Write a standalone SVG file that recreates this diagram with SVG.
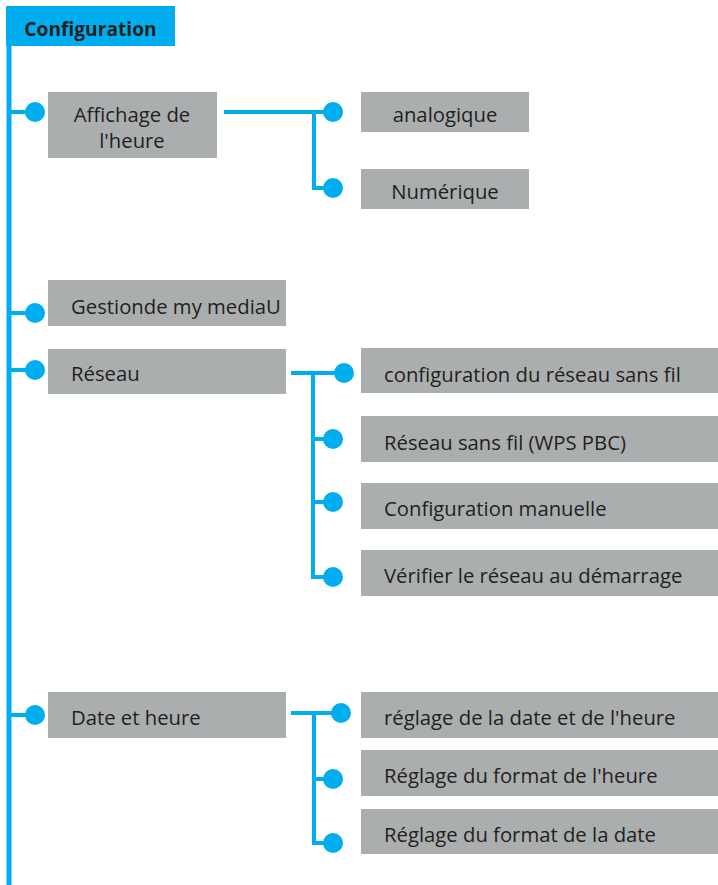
<svg xmlns="http://www.w3.org/2000/svg" width="718" height="885" viewBox="0 0 718 885">
<style>
.box{fill:#ABAEAE}
.t{font-family:"Open Sans","Noto Sans",sans-serif;font-size:20.3px;fill:#231F20}
.h{font-family:"Open Sans","Noto Sans",sans-serif;font-size:19.2px;font-weight:bold;fill:#231F20}
.ln{stroke:#00AEEF;stroke-width:4;fill:none}
.dot{fill:#00AEEF}
</style>
<rect width="718" height="885" fill="#fff"/>
<g id="connectors">
<line class="ln" x1="9" y1="46" x2="9" y2="885" style="stroke-width:5"/>
<path class="ln" d="M9 112H35M9 313H35M9 370H35M9 715H35"/>
<path class="ln" d="M224 112H333M314 112V188H333"/>
<path class="ln" d="M291 373H344M313 373V577H333M313 439H333M313 502H333"/>
<path class="ln" d="M291 713H341M314 713V843H333M314 779H333"/>
<circle class="dot" cx="35" cy="112" r="10"/>
<circle class="dot" cx="35" cy="313" r="10"/>
<circle class="dot" cx="35" cy="370" r="10"/>
<circle class="dot" cx="35" cy="715" r="10"/>
<circle class="dot" cx="333" cy="112" r="10"/>
<circle class="dot" cx="333" cy="188" r="10"/>
<circle class="dot" cx="344" cy="373" r="10"/>
<circle class="dot" cx="333" cy="439" r="10"/>
<circle class="dot" cx="333" cy="502" r="10"/>
<circle class="dot" cx="333" cy="577" r="10"/>
<circle class="dot" cx="341" cy="713" r="10"/>
<circle class="dot" cx="333" cy="779" r="10"/>
<circle class="dot" cx="333" cy="843" r="10"/>
</g>
<g id="configuration">
<rect x="6" y="6" width="169" height="40" fill="#00AEEF"/>
<text class="h" x="90.5" y="36" text-anchor="middle">Configuration</text>
</g>
<g id="affichage">
<rect class="box" x="48" y="92" width="169" height="66"/>
<text class="t" x="132" y="122" text-anchor="middle">Affichage de</text>
<text class="t" x="132" y="148" text-anchor="middle">l'heure</text>
</g>
<g id="analogique">
<rect class="box" x="361" y="92" width="168" height="40"/>
<text class="t" x="445" y="122" text-anchor="middle">analogique</text>
</g>
<g id="numerique">
<rect class="box" x="361" y="169" width="168" height="40"/>
<text class="t" x="445" y="199" text-anchor="middle">Numérique</text>
</g>
<g id="gestion">
<rect class="box" x="48" y="280" width="238" height="46"/>
<text class="t" x="71" y="314">Gestionde my mediaU</text>
</g>
<g id="reseau">
<rect class="box" x="48" y="349" width="238" height="45"/>
<text class="t" x="71" y="381">Réseau</text>
</g>
<g id="reseau-config">
<rect class="box" x="361" y="348" width="357" height="45"/>
<text class="t" x="384" y="382">configuration du réseau sans fil</text>
</g>
<g id="reseau-wps">
<rect class="box" x="361" y="416" width="357" height="46"/>
<text class="t" x="384" y="450">Réseau sans fil (WPS PBC)</text>
</g>
<g id="reseau-manuel">
<rect class="box" x="361" y="483" width="357" height="46"/>
<text class="t" x="384" y="516">Configuration manuelle</text>
</g>
<g id="reseau-verif">
<rect class="box" x="361" y="550" width="357" height="46"/>
<text class="t" x="384" y="583">Vérifier le réseau au démarrage</text>
</g>
<g id="date">
<rect class="box" x="48" y="692" width="238" height="46"/>
<text class="t" x="71" y="725">Date et heure</text>
</g>
<g id="date-reglage">
<rect class="box" x="361" y="692" width="357" height="46"/>
<text class="t" x="384" y="725">réglage de la date et de l'heure</text>
</g>
<g id="format-heure">
<rect class="box" x="361" y="750" width="357" height="46"/>
<text class="t" x="384" y="783">Réglage du format de l'heure</text>
</g>
<g id="format-date">
<rect class="box" x="361" y="809" width="357" height="45"/>
<text class="t" x="384" y="842">Réglage du format de la date</text>
</g>
</svg>
